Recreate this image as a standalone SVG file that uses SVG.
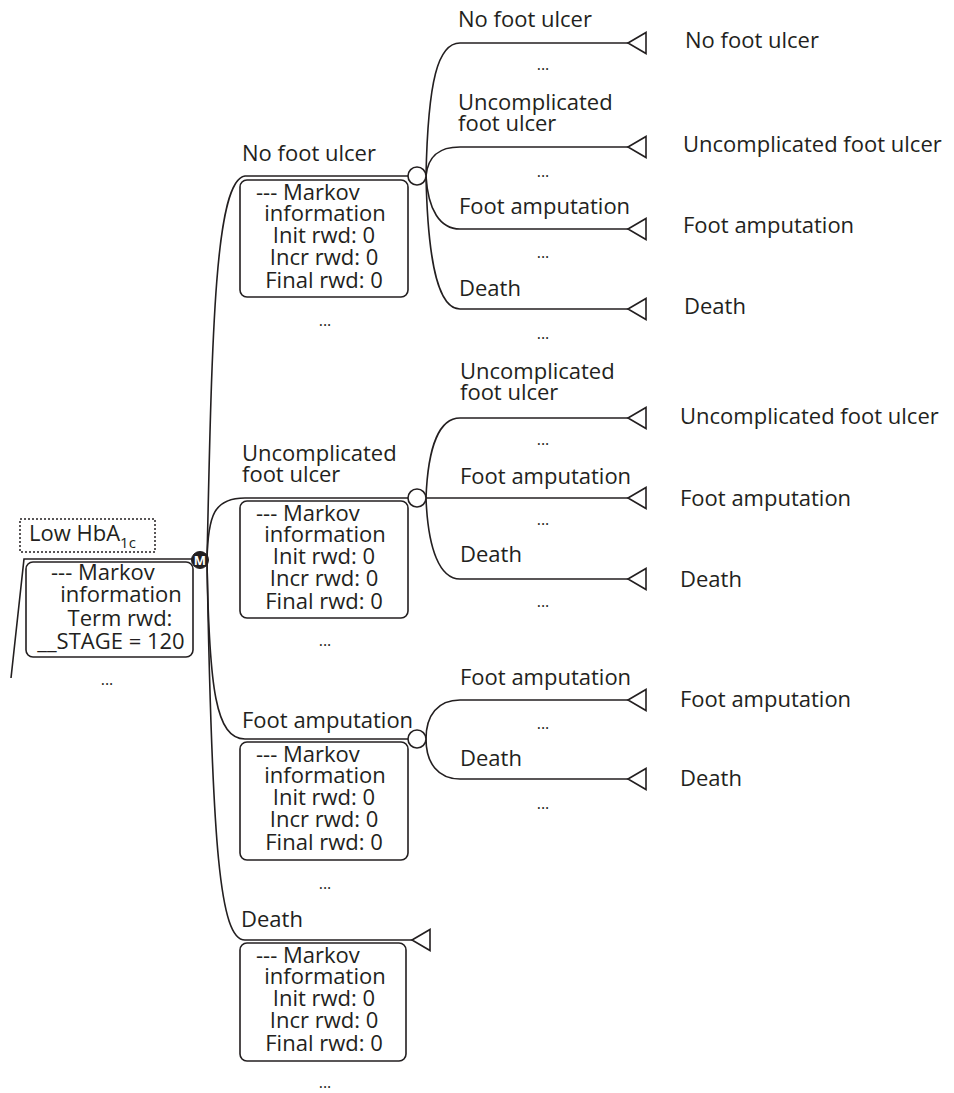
<svg xmlns="http://www.w3.org/2000/svg" width="954" height="1093" viewBox="0 0 954 1093">
<style>
.ln{fill:none;stroke:#231f20;stroke-width:1.6}
.bx{fill:#fff;stroke:#231f20;stroke-width:1.6}
.t{font-family:"Open Sans","Liberation Sans",sans-serif;font-size:22px;fill:#231f20}
.m{text-anchor:middle}
.d{font-family:"Open Sans","Liberation Sans",sans-serif;font-size:16px;fill:#231f20;text-anchor:middle}
.tri{fill:#fff;stroke:#231f20;stroke-width:1.6;stroke-linejoin:miter}
.ch{fill:#fff;stroke:#231f20;stroke-width:1.6}
</style>
<defs>
<polygon id="term" class="tri" points="0,0 18,-10.5 18,10.5"/>
</defs>
<rect width="954" height="1093" fill="#fff"/>

<g id="connectors">
  <path class="ln" d="M 11 678 L 24 559 L 192 559"/>
  <path class="ln" d="M 207 560 C 212 330 215 180 245 176 L 408 176"/>
  <path class="ln" d="M 207 560 C 208 515 214 498 245 498 L 408 498"/>
  <path class="ln" d="M 207 560 C 209 690 216 739 245 739 L 408 739"/>
  <path class="ln" d="M 207 560 C 212 850 220 940 245 940 L 412 940"/>
  <path class="ln" d="M 426 176 C 428 80 438 43 460 43 L 628 43"/>
  <path class="ln" d="M 426 176 C 428 155 440 147 460 147 L 628 147"/>
  <path class="ln" d="M 426 176 C 428 210 440 229 460 229 L 628 229"/>
  <path class="ln" d="M 426 176 C 428 270 440 309 460 309 L 628 309"/>
  <path class="ln" d="M 426 498 C 428 445 440 418 460 418 L 628 418"/>
  <path class="ln" d="M 426 498 L 628 498"/>
  <path class="ln" d="M 426 498 C 428 550 440 579 460 579 L 628 579"/>
  <path class="ln" d="M 426 739 C 426 715 438 700 460 700 L 628 700"/>
  <path class="ln" d="M 426 739 C 426 763 438 779 460 779 L 628 779"/>
</g>

<g id="root">
  <rect x="20" y="519" width="135" height="33" fill="none" stroke="#231f20" stroke-width="1.5" stroke-dasharray="2,2"/>
  <text class="t" x="29" y="541">Low HbA<tspan font-size="15" dy="7">1c</tspan></text>
  <text class="d" x="107" y="685">...</text>
</g>

<g id="markov-node">
  <rect class="bx" x="26" y="562" width="167" height="95" rx="7"/>
  <text class="t" x="51" y="580">--- Markov</text>
  <text class="t m" x="121" y="602">information</text>
  <text class="t m" x="120" y="626">Term rwd:</text>
  <text class="t m" x="111" y="649">__STAGE = 120</text>
  <circle cx="200" cy="560" r="8.5" fill="#231f20" stroke="#231f20" stroke-width="1"/>
  <text x="200" y="565" text-anchor="middle" font-family="Open Sans, Liberation Sans, sans-serif" font-size="13" font-weight="bold" fill="#fff">M</text>
</g>

<g id="state-no-ulcer">
  <text class="t" x="242" y="161">No foot ulcer</text>
  <rect class="bx" x="240" y="180" width="168" height="117" rx="7"/>
  <text class="t" x="256" y="200">--- Markov</text>
  <text class="t m" x="325" y="221">information</text>
  <text class="t m" x="324" y="243">Init rwd: 0</text>
  <text class="t m" x="324" y="265">Incr rwd: 0</text>
  <text class="t m" x="324" y="288">Final rwd: 0</text>
  <text class="d" x="325" y="326">...</text>
  <circle class="ch" cx="417" cy="176" r="9"/>
</g>

<g id="state-uncomplicated">
  <text class="t" x="242" y="461">Uncomplicated</text>
  <text class="t" x="242" y="482">foot ulcer</text>
  <rect class="bx" x="240" y="501" width="168" height="117" rx="7"/>
  <text class="t" x="256" y="521">--- Markov</text>
  <text class="t m" x="325" y="542">information</text>
  <text class="t m" x="324" y="564">Init rwd: 0</text>
  <text class="t m" x="324" y="586">Incr rwd: 0</text>
  <text class="t m" x="324" y="609">Final rwd: 0</text>
  <text class="d" x="325" y="646">...</text>
  <circle class="ch" cx="417" cy="498" r="9"/>
</g>

<g id="state-amputation">
  <text class="t" x="242" y="728">Foot amputation</text>
  <rect class="bx" x="240" y="742" width="168" height="118" rx="7"/>
  <text class="t" x="256" y="762">--- Markov</text>
  <text class="t m" x="325" y="783">information</text>
  <text class="t m" x="324" y="805">Init rwd: 0</text>
  <text class="t m" x="324" y="827">Incr rwd: 0</text>
  <text class="t m" x="324" y="850">Final rwd: 0</text>
  <text class="d" x="325" y="889">...</text>
  <circle class="ch" cx="417" cy="739" r="9"/>
</g>

<g id="state-death">
  <text class="t" x="241" y="927">Death</text>
  <rect class="bx" x="240" y="943" width="166" height="118" rx="7"/>
  <text class="t" x="256" y="963">--- Markov</text>
  <text class="t m" x="325" y="984">information</text>
  <text class="t m" x="324" y="1006">Init rwd: 0</text>
  <text class="t m" x="324" y="1028">Incr rwd: 0</text>
  <text class="t m" x="324" y="1051">Final rwd: 0</text>
  <text class="d" x="325" y="1088">...</text>
  <use href="#term" x="412" y="940"/>
</g>

<g id="branches-no-ulcer">
  <text class="t" x="458" y="27">No foot ulcer</text>
  <text class="d" x="543" y="70">...</text>
  <text class="t" x="458" y="110">Uncomplicated</text>
  <text class="t" x="458" y="131">foot ulcer</text>
  <text class="d" x="543" y="177">...</text>
  <text class="t" x="459" y="214">Foot amputation</text>
  <text class="d" x="543" y="258">...</text>
  <text class="t" x="459" y="296">Death</text>
  <text class="d" x="543" y="339">...</text>
  <use href="#term" x="628" y="43"/>
  <use href="#term" x="628" y="147"/>
  <use href="#term" x="628" y="229"/>
  <use href="#term" x="628" y="309"/>
  <text class="t" x="685" y="48">No foot ulcer</text>
  <text class="t" x="683" y="152">Uncomplicated foot ulcer</text>
  <text class="t" x="683" y="233">Foot amputation</text>
  <text class="t" x="684" y="314">Death</text>
</g>

<g id="branches-uncomplicated">
  <text class="t" x="460" y="379">Uncomplicated</text>
  <text class="t" x="460" y="400">foot ulcer</text>
  <text class="d" x="543" y="445">...</text>
  <text class="t" x="460" y="484">Foot amputation</text>
  <text class="d" x="543" y="525">...</text>
  <text class="t" x="460" y="562">Death</text>
  <text class="d" x="543" y="607">...</text>
  <use href="#term" x="628" y="418"/>
  <use href="#term" x="628" y="498"/>
  <use href="#term" x="628" y="579"/>
  <text class="t" x="680" y="424">Uncomplicated foot ulcer</text>
  <text class="t" x="680" y="506">Foot amputation</text>
  <text class="t" x="680" y="587">Death</text>
</g>

<g id="branches-amputation">
  <text class="t" x="460" y="685">Foot amputation</text>
  <text class="d" x="543" y="729">...</text>
  <text class="t" x="460" y="766">Death</text>
  <text class="d" x="543" y="809">...</text>
  <use href="#term" x="628" y="700"/>
  <use href="#term" x="628" y="779"/>
  <text class="t" x="680" y="707">Foot amputation</text>
  <text class="t" x="680" y="786">Death</text>
</g>
</svg>
